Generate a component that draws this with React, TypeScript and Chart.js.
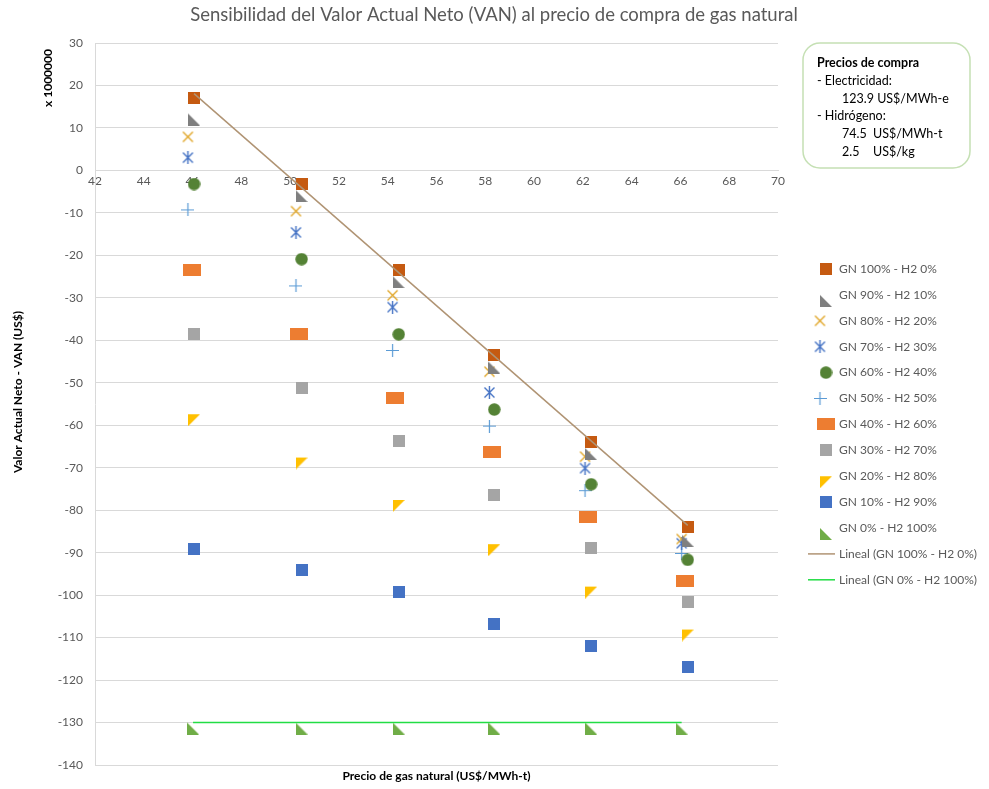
import React, { useEffect, useRef } from "react";
import { Chart, registerables } from "chart.js";

Chart.register(...registerables);

// Gas price (US$/MWh-t) per group of marks
const priceMain = [46.06, 50.47, 54.45, 58.37, 62.34, 66.3];
const priceCross = [45.81, 50.24, 54.2, 58.17, 62.09, 66.05];
const priceWide = [45.96, 50.35, 54.3, 58.26, 62.2, 66.19];
const priceH2 = [46.02, 50.47, 54.45, 58.37, 62.34, 66.05];

// NPV (x 1 000 000 US$) per blend
const gn100 = [17.0, -3.2, -23.5, -43.5, -63.9, -84.0];
const gn90 = [13.4, -4.6, -24.9, -45.0, -65.4, -85.8];
const gn80 = [7.9, -9.6, -29.4, -47.4, -67.4, -86.8];
const gn70 = [3.0, -14.6, -32.2, -52.3, -70.1, -87.8];
const gn60 = [-3.2, -20.9, -38.6, -56.3, -73.9, -91.7];
const gn50 = [-9.3, -27.2, -42.4, -60.2, -75.4, -90.2];
const gn40 = [-23.5, -38.5, -53.7, -66.2, -81.5, -96.6];
const gn30 = [-38.5, -51.3, -63.7, -76.4, -89.0, -101.7];
const gn20 = [-57.4, -67.6, -77.6, -88.0, -98.0, -108.1];
const gn10 = [-89.1, -94.1, -99.2, -106.8, -111.9, -116.9];
const gn0 = [-130, -130, -130, -130, -130, -130];

const seriesLabels = [
  "GN 100% - H2 0%",
  "GN 90% - H2 10%",
  "GN 80% - H2 20%",
  "GN 70% - H2 30%",
  "GN 60% - H2 40%",
  "GN 50% - H2 50%",
  "GN 40% - H2 60%",
  "GN 30% - H2 70%",
  "GN 20% - H2 80%",
  "GN 10% - H2 90%",
  "GN 0% - H2 100%",
];
const trendLabels = ["Lineal (GN 100% - H2 0%)", "Lineal (GN 0% - H2 100%)"];

const titleText = "Sensibilidad del Valor Actual Neto (VAN) al precio de compra de gas natural";
const yTitle = "Valor Actual Neto - VAN (US$)";
const yUnit = "x 1000000";
const xTitle = "Precio de gas natural (US$/MWh-t)";
const noteLines = [
  "Precios de compra",
  "- Electricidad:",
  "123.9 US$/MWh-e",
  "- Hidrógeno:",
  "74.5|US$/MWh-t",
  "2.5|US$/kg",
];

const FONT = "Lato, 'Open Sans', sans-serif";

type Draw = (ctx: CanvasRenderingContext2D, w: number, h: number) => void;
function marker(w: number, h: number, draw: Draw): HTMLCanvasElement {
  const c = document.createElement("canvas");
  c.width = w;
  c.height = h;
  const ctx = c.getContext("2d")!;
  draw(ctx, w, h);
  return c;
}
const square = (color: string, w = 12, h = 12) =>
  marker(w, h, (ctx) => {
    ctx.fillStyle = color;
    ctx.fillRect(0, 0, w, h);
  });
const circle = (color: string) =>
  marker(13, 13, (ctx) => {
    ctx.fillStyle = color;
    ctx.beginPath();
    ctx.arc(6.5, 6.5, 6.2, 0, Math.PI * 2);
    ctx.fill();
  });
const cross = (color: string, star: boolean) =>
  marker(13, 13, (ctx) => {
    ctx.strokeStyle = color;
    ctx.lineWidth = 1.4;
    ctx.beginPath();
    ctx.moveTo(1.5, 1.5);
    ctx.lineTo(11.5, 11.5);
    ctx.moveTo(11.5, 1.5);
    ctx.lineTo(1.5, 11.5);
    if (star) {
      ctx.moveTo(6.5, 0);
      ctx.lineTo(6.5, 13);
    }
    ctx.stroke();
  });
const plus = (color: string) =>
  marker(13, 13, (ctx) => {
    ctx.strokeStyle = color;
    ctx.lineWidth = 1.2;
    ctx.beginPath();
    ctx.moveTo(0, 6.5);
    ctx.lineTo(13, 6.5);
    ctx.moveTo(6.5, 0);
    ctx.lineTo(6.5, 13);
    ctx.stroke();
  });
// half-square triangles that hang below their point
const triLowerLeft = (color: string) =>
  marker(12, 24, (ctx) => {
    ctx.fillStyle = color;
    ctx.beginPath();
    ctx.moveTo(0, 12);
    ctx.lineTo(0, 24);
    ctx.lineTo(12, 24);
    ctx.closePath();
    ctx.fill();
  });
const triUpperLeft = (color: string) =>
  marker(12, 24, (ctx) => {
    ctx.fillStyle = color;
    ctx.beginPath();
    ctx.moveTo(0, 12);
    ctx.lineTo(12, 12);
    ctx.lineTo(0, 24);
    ctx.closePath();
    ctx.fill();
  });

function linearFit(xs: number[], ys: number[]) {
  const n = xs.length;
  const mx = xs.reduce((a, b) => a + b, 0) / n;
  const my = ys.reduce((a, b) => a + b, 0) / n;
  let sxy = 0;
  let sxx = 0;
  for (let i = 0; i < n; i++) {
    sxy += (xs[i] - mx) * (ys[i] - my);
    sxx += (xs[i] - mx) * (xs[i] - mx);
  }
  const b = sxx ? sxy / sxx : 0;
  const a = my - b * mx;
  const x0 = Math.min(...xs);
  const x1 = Math.max(...xs);
  return [
    { x: x0, y: a + b * x0 },
    { x: x1, y: a + b * x1 },
  ];
}

const pts = (xs: number[], ys: number[]) => ys.map((y, i) => ({ x: xs[i], y }));

export default function App() {
  const ref = useRef<HTMLCanvasElement>(null);

  useEffect(() => {
    if (!ref.current) return;

    const markers = [
      square("#c55a11"),
      triLowerLeft("#7f7f7f"),
      cross("#e0a526", false),
      cross("#4472c4", true),
      circle("#548235"),
      plus("#5b9bd5"),
      square("#ed7d31", 18, 12),
      square("#a5a5a5"),
      triUpperLeft("#ffc000"),
      square("#4472c4"),
      triLowerLeft("#70ad47"),
    ];
    const xsets = [
      priceMain, priceMain, priceCross, priceCross, priceMain, priceCross,
      priceWide, priceMain, priceMain, priceMain, priceH2,
    ];
    const ysets = [gn100, gn90, gn80, gn70, gn60, gn50, gn40, gn30, gn20, gn10, gn0];
    const trendColors = ["#b09474", "#22dd44"];

    const datasets: any[] = ysets.map((ys, i) => ({
      label: seriesLabels[i],
      data: pts(xsets[i], ys),
      pointStyle: markers[i],
      pointRadius: 6,
      showLine: false,
      order: 0,
    }));
    datasets.push({
      label: trendLabels[0],
      data: linearFit(priceMain, gn100),
      showLine: true,
      borderColor: trendColors[0],
      borderWidth: 1.5,
      pointRadius: 0,
      order: -1,
    });
    datasets.push({
      label: trendLabels[1],
      data: linearFit(priceH2, gn0),
      showLine: true,
      borderColor: trendColors[1],
      borderWidth: 1.5,
      pointRadius: 0,
      order: -1,
    });

    const decor = {
      id: "decor",
      afterDraw(chart: any) {
        const ctx: CanvasRenderingContext2D = chart.ctx;
        const area = chart.chartArea;
        ctx.save();

        // title
        ctx.fillStyle = "#595959";
        ctx.font = `18.5px ${FONT}`;
        ctx.textAlign = "center";
        ctx.textBaseline = "middle";
        ctx.fillText(titleText, 494, 15);

        // axis titles
        ctx.fillStyle = "#000";
        ctx.font = `bold 12px ${FONT}`;
        ctx.fillText(xTitle, (area.left + area.right) / 2, 776);
        ctx.save();
        ctx.translate(18, 392);
        ctx.rotate(-Math.PI / 2);
        ctx.fillText(yTitle, 0, 0);
        ctx.restore();
        ctx.save();
        ctx.translate(48, 78);
        ctx.rotate(-Math.PI / 2);
        ctx.fillText(yUnit, 0, 0);
        ctx.restore();

        // price note box
        const bx = 803, by = 43, bw = 167, bh = 125, r = 17;
        ctx.beginPath();
        ctx.moveTo(bx + r, by);
        ctx.arcTo(bx + bw, by, bx + bw, by + bh, r);
        ctx.arcTo(bx + bw, by + bh, bx, by + bh, r);
        ctx.arcTo(bx, by + bh, bx, by, r);
        ctx.arcTo(bx, by, bx + bw, by, r);
        ctx.closePath();
        ctx.fillStyle = "#fff";
        ctx.fill();
        ctx.strokeStyle = "#c5e0b4";
        ctx.lineWidth = 1.5;
        ctx.stroke();

        ctx.textAlign = "left";
        ctx.fillStyle = "#000";
        const rows = [63, 81, 99, 116, 134, 152];
        noteLines.forEach((line, i) => {
          ctx.font = i === 0 ? `bold 12.5px ${FONT}` : `12.5px ${FONT}`;
          const indent = i === 2 || i >= 4 ? 842 : 817;
          const parts = line.split("|");
          ctx.fillText(parts[0], indent, rows[i]);
          if (parts[1]) ctx.fillText(parts[1], 873, rows[i]);
        });

        // legend
        const rowY = (i: number) => 269 + i * 25.9;
        ctx.font = `12px ${FONT}`;
        ctx.textBaseline = "middle";
        seriesLabels.forEach((lab, i) => {
          const m = markers[i];
          const dx = i === 2 || i === 3 || i === 5 ? -6 : 0;
          ctx.drawImage(m, 826 + dx - m.width / 2, rowY(i) - m.height / 2);
          ctx.fillStyle = "#595959";
          ctx.fillText(lab, 839, rowY(i));
        });
        trendLabels.forEach((lab, j) => {
          const y = rowY(11 + j);
          ctx.strokeStyle = trendColors[j];
          ctx.lineWidth = 1.5;
          ctx.beginPath();
          ctx.moveTo(808, y);
          ctx.lineTo(835, y);
          ctx.stroke();
          ctx.fillStyle = "#595959";
          ctx.fillText(lab, 839, y);
        });

        ctx.restore();
      },
    };

    const chart = new Chart(ref.current, {
      type: "scatter",
      data: { datasets },
      plugins: [decor],
      options: {
        animation: false,
        responsive: false,
        layout: { padding: { top: 43, right: 211, bottom: 24, left: 0 } },
        plugins: {
          legend: { display: false },
          tooltip: { enabled: false },
          title: { display: false },
        },
        scales: {
          x: {
            type: "linear",
            position: { y: 0 } as any,
            min: 42,
            max: 70,
            ticks: {
              stepSize: 2,
              color: "#595959",
              font: { size: 12, family: FONT },
              padding: 4,
              maxRotation: 0,
            },
            grid: { display: false, drawTicks: false },
            border: { display: true, color: "#d9d9d9", width: 1 },
          },
          y: {
            type: "linear",
            min: -140,
            max: 30,
            ticks: {
              stepSize: 10,
              color: "#595959",
              font: { size: 12, family: FONT },
              padding: 12,
            },
            grid: { color: "#d9d9d9", drawTicks: false },
            border: { display: true, color: "#d9d9d9" },
            afterFit(scale: any) {
              scale.width = 95;
            },
          },
        },
      },
    });

    return () => chart.destroy();
  }, []);

  return (
    <div style={{ position: "fixed", left: 0, top: 0, width: 989, height: 789, background: "#fff" }}>
      <canvas ref={ref} width={989} height={789} />
    </div>
  );
}
